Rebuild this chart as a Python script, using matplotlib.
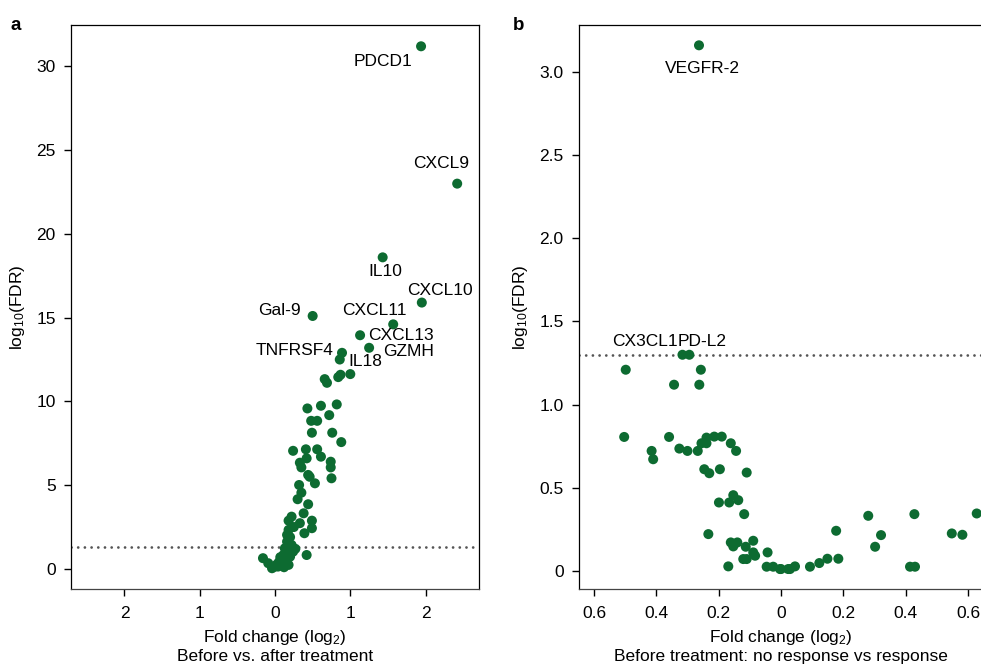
import numpy as np
import matplotlib
matplotlib.use("Agg")
import matplotlib.pyplot as plt

plt.rcParams['font.family'] = ['Liberation Sans', 'DejaVu Sans']
plt.rcParams['mathtext.default'] = 'regular'

## 数据 (a): before vs. after treatment
a_fc = [1.94, 2.42, 1.43, 1.95, 0.50, 1.57, 1.13, 1.25, 0.89, 0.86,
        0.66, 0.69, 0.84, 0.87, 1.00, 0.43, 0.61, 0.82, 0.72, 0.48,
        0.56, 0.49, 0.76, 0.88, 0.24, 0.41, 0.56, 0.61, 0.42, 0.33,
        0.35, 0.74, 0.74, 0.44, 0.75, 0.46, 0.53, 0.32, 0.35, 0.30,
        0.44, 0.38, 0.22, 0.18, 0.49, 0.33, 0.49, 0.18, 0.39, 0.16,
        0.16, 0.22, 0.13, 0.24, 0.42, 0.11, 0.20, -0.16, 0.07, -0.09,
        0.00, 0.18, 0.09, -0.04, 0.04, 0.11, 0.20, 0.25, 0.15, 0.05,
        0.12, 0.02, 0.14, 0.27]
a_fdr = [31.2, 23.0, 18.6, 15.9, 15.1, 14.6, 13.95, 13.2, 12.9, 12.5,
         11.33, 11.11, 11.45, 11.59, 11.63, 9.58, 9.74, 9.82, 9.18, 8.84,
         8.84, 8.13, 8.13, 7.57, 7.05, 7.14, 7.14, 6.70, 6.60, 6.34,
         6.06, 6.40, 6.06, 5.61, 5.41, 5.50, 5.11, 5.01, 4.55, 4.16,
         3.86, 3.32, 3.12, 2.88, 2.88, 2.73, 2.43, 2.33, 2.13, 2.03,
         1.63, 1.43, 1.23, 1.03, 0.83, 0.83, 0.73, 0.64, 0.70, 0.34,
         0.14, 0.24, 0.34, 0.04, 0.14, 0.54, 1.90, 2.50, 1.00, 0.40,
         0.10, 0.25, 0.45, 1.20]
a_labels = {0: ("PDCD1", (-6, -11), 'right'),
            1: ("CXCL9", (-11.5, 14.4), 'center'),
            2: ("IL10", (2, -10), 'center'),
            3: ("CXCL10", (13, 8.6), 'center'),
            4: ("Gal-9", (-8.6, 3.6), 'right'),
            5: ("CXCL11", (-13.7, 10), 'center'),
            6: ("CXCL13", (5.8, 0), 'left'),
            7: ("GZMH", (10, -3), 'left'),
            8: ("TNFRSF4", (-6, 2), 'right'),
            9: ("IL18", (6, -1.5), 'left')}

## 数据 (b): before treatment, no response vs response
b_fc = [-0.263, -0.316, -0.294, -0.498, -0.257, -0.343, -0.262,
        -0.503, -0.359, -0.415, -0.410, -0.326, -0.300, -0.267, -0.255,
        -0.239, -0.239, -0.214, -0.190, -0.161, -0.144, -0.246, -0.230,
        -0.196, -0.110, -0.153, -0.137, -0.166, -0.199, -0.118, -0.233,
        -0.161, -0.140, -0.153, -0.089, -0.113, -0.089, -0.083, -0.121,
        -0.110, -0.169, -0.043, -0.046, -0.025, -0.003, 0.023, 0.045,
        0.000, 0.029, 0.093, 0.123, 0.149, 0.184, 0.177, 0.280, 0.321,
        0.302, 0.414, 0.430, 0.428, 0.548, 0.582, 0.628]
b_fdr = [3.16, 1.30, 1.30, 1.21, 1.21, 1.12, 1.12,
         0.806, 0.806, 0.722, 0.672, 0.736, 0.722, 0.722, 0.768,
         0.802, 0.768, 0.808, 0.808, 0.768, 0.722, 0.612, 0.588,
         0.612, 0.592, 0.456, 0.426, 0.412, 0.412, 0.342, 0.222,
         0.172, 0.172, 0.148, 0.182, 0.146, 0.112, 0.092, 0.072,
         0.072, 0.028, 0.112, 0.026, 0.026, 0.012, 0.012, 0.028,
         0.012, 0.012, 0.026, 0.048, 0.074, 0.074, 0.242, 0.332, 0.216,
         0.146, 0.026, 0.026, 0.342, 0.226, 0.218, 0.346]
b_labels = {0: ("VEGFR-2", (2.5, -17), 'center'),
            1: ("CX3CL1", (-3.4, 9.6), 'right'),
            2: ("PD-L2", (-8.3, 9.6), 'left')}

threshold = 1.3  # -log10(0.05)
green = '#0d6b31'
fs = 12.5


def volcano(ax, x, y, labels):
    ax.scatter(x, y, s=52, color=green, edgecolor='none', zorder=3)
    ln = ax.axhline(threshold, color='#555555', lw=2, zorder=2)
    ln.set_dashes([0.01, 2.4])
    ln.set_dash_capstyle('round')
    for i, (txt, off, ha) in labels.items():
        ax.annotate(txt, (x[i], y[i]), xytext=off, textcoords='offset points',
                    ha=ha, va='center', fontsize=fs, zorder=4)
    ax.tick_params(direction='out', length=5, width=1, labelsize=fs)
    ax.tick_params(axis='x', pad=7)
    ax.tick_params(axis='y', pad=6)
    for s in ax.spines.values():
        s.set_linewidth(0.9)
    ax.spines['bottom'].set_color('#444444')
    ax.set_ylabel('log$_{10}$(FDR)', fontsize=fs, labelpad=7)


fig = plt.figure(figsize=(9.81, 6.66), dpi=100)
ax1 = fig.add_axes([0.0724, 0.1156, 0.4159, 0.8476])
ax2 = fig.add_axes([0.5902, 0.1156, 0.4118, 0.8476])

volcano(ax1, a_fc, a_fdr, a_labels)
ax1.set_xlim(-2.71, 2.71)
ax1.set_ylim(-1.2, 32.5)
ax1.set_xticks([-2, -1, 0, 1, 2])
ax1.set_xticklabels(['2', '1', '0', '1', '2'])
ax1.set_yticks([0, 5, 10, 15, 20, 25, 30])
ax1.set_xlabel('Fold change (log$_2$)\nBefore vs. after treatment', fontsize=fs, labelpad=5)

volcano(ax2, b_fc, b_fdr, b_labels)
ax2.set_xlim(-0.648, 0.648)
ax2.set_ylim(-0.108, 3.285)
ax2.set_xticks([-0.6, -0.4, -0.2, 0, 0.2, 0.4, 0.6])
ax2.set_xticklabels(['0.6', '0.4', '0.2', '0', '0.2', '0.4', '0.6'])
ax2.set_yticks([0, 0.5, 1.0, 1.5, 2.0, 2.5, 3.0])
ax2.set_yticklabels(['0', '0.5', '1.0', '1.5', '2.0', '2.5', '3.0'])
ax2.set_xlabel('Fold change (log$_2$)\nBefore treatment: no response vs response', fontsize=fs, labelpad=5)

fig.text(0.011, 0.962, 'a', fontsize=13.5, fontweight='bold', va='center')
fig.text(0.523, 0.962, 'b', fontsize=13.5, fontweight='bold', va='center')

fig.savefig('out.png', dpi=100)
